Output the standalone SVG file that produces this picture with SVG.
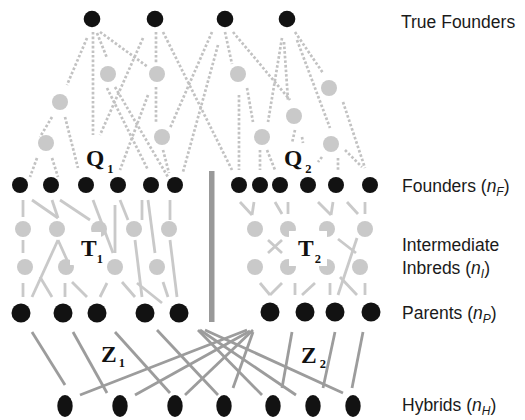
<svg xmlns="http://www.w3.org/2000/svg" width="525" height="420" viewBox="0 0 525 420">
<style>
.k{fill:#121212}
.g{fill:#c9c9c9}
.dot{stroke:#c2c2c2;stroke-width:2.7;stroke-dasharray:2.6 2;fill:none}
.mid{stroke:#c9c9c9;stroke-width:2.8;fill:none}
.bot{stroke:#9c9c9c;stroke-width:2.8;fill:none}
.lab{font-family:"Liberation Sans",Arial,sans-serif;font-size:17.5px;fill:#1a1a1a}
.big{font-family:"Liberation Serif","Times New Roman",serif;font-size:23.5px;font-weight:bold;fill:#111}
.sub{font-size:12.5px}
</style>
<rect width="525" height="420" fill="#fff"/>
<g id="connectors">
<g id="top-dotted" class="dot">
<line x1="87" y1="38" x2="67" y2="85"/>
<line x1="93" y1="32" x2="93" y2="135"/>
<line x1="97" y1="33" x2="107" y2="58"/>
<line x1="100" y1="32" x2="148" y2="67"/>
<line x1="143" y1="38" x2="100" y2="135"/>
<line x1="156" y1="32" x2="156" y2="64"/>
<line x1="163" y1="32" x2="232" y2="170"/>
<line x1="212" y1="32" x2="170" y2="128"/>
<line x1="218" y1="45" x2="183" y2="172"/>
<line x1="225" y1="32" x2="232" y2="64"/>
<line x1="233" y1="32" x2="290" y2="100"/>
<line x1="282" y1="38" x2="268" y2="122"/>
<line x1="284" y1="42" x2="288" y2="100"/>
<line x1="295" y1="32" x2="323" y2="73"/>
<line x1="297" y1="40" x2="330" y2="128"/>
<line x1="52" y1="117" x2="40" y2="137"/>
<line x1="65" y1="117" x2="78" y2="168"/>
<line x1="37" y1="158" x2="30" y2="177"/>
<line x1="52" y1="158" x2="58" y2="177"/>
<line x1="107" y1="88" x2="148" y2="170"/>
<line x1="115" y1="87" x2="168" y2="177"/>
<line x1="148" y1="95" x2="120" y2="170"/>
<line x1="156" y1="87" x2="156" y2="122"/>
<line x1="163" y1="150" x2="169" y2="173"/>
<line x1="239" y1="95" x2="239" y2="170"/>
<line x1="247" y1="88" x2="253" y2="122"/>
<line x1="260" y1="150" x2="260" y2="170"/>
<line x1="267" y1="150" x2="275" y2="170"/>
<line x1="295" y1="130" x2="292" y2="143"/>
<line x1="302" y1="137" x2="303" y2="143"/>
<line x1="343" y1="102" x2="365" y2="168"/>
<line x1="322" y1="157" x2="318" y2="162"/>
<line x1="338" y1="158" x2="338" y2="170"/>
<line x1="345" y1="150" x2="362" y2="167"/>
</g>
<g id="mid-solid" class="mid">
<line x1="23" y1="200" x2="23" y2="217"/>
<line x1="32" y1="200" x2="58" y2="218"/>
<line x1="52" y1="200" x2="58" y2="218"/>
<line x1="60" y1="200" x2="90" y2="220"/>
<line x1="93" y1="200" x2="113" y2="253"/>
<line x1="115" y1="205" x2="115" y2="253"/>
<line x1="120" y1="200" x2="128" y2="220"/>
<line x1="142" y1="200" x2="142" y2="220"/>
<line x1="148" y1="200" x2="155" y2="253"/>
<line x1="170" y1="200" x2="170" y2="220"/>
<line x1="135" y1="240" x2="142" y2="297"/>
<line x1="170" y1="240" x2="177" y2="297"/>
<line x1="23" y1="240" x2="23" y2="253"/>
<line x1="58" y1="240" x2="32" y2="297"/>
<line x1="58" y1="240" x2="67" y2="260"/>
<line x1="40" y1="277" x2="52" y2="297"/>
<line x1="23" y1="283" x2="23" y2="297"/>
<line x1="65" y1="283" x2="65" y2="297"/>
<line x1="72" y1="282" x2="87" y2="297"/>
<line x1="107" y1="283" x2="100" y2="297"/>
<line x1="122" y1="282" x2="135" y2="297"/>
<line x1="137" y1="283" x2="162" y2="303"/>
<line x1="163" y1="282" x2="168" y2="297"/>
<line x1="240" y1="202" x2="252" y2="215"/>
<line x1="254" y1="202" x2="252" y2="215"/>
<line x1="275" y1="202" x2="282" y2="214"/>
<line x1="288" y1="202" x2="288" y2="214"/>
<line x1="318" y1="202" x2="331" y2="215"/>
<line x1="333" y1="202" x2="331" y2="215"/>
<line x1="347" y1="202" x2="358" y2="214"/>
<line x1="365" y1="202" x2="365" y2="214"/>
<line x1="268" y1="240" x2="282" y2="253"/>
<line x1="282" y1="240" x2="268" y2="253"/>
<line x1="338" y1="239" x2="356" y2="253"/>
<line x1="357" y1="238" x2="338" y2="295"/>
<line x1="260" y1="283" x2="270" y2="295"/>
<line x1="282" y1="283" x2="270" y2="295"/>
<line x1="295" y1="283" x2="295" y2="295"/>
<line x1="302" y1="295" x2="315" y2="283"/>
<line x1="330" y1="283" x2="330" y2="295"/>
<line x1="340" y1="277" x2="357" y2="295"/>
<line x1="365" y1="283" x2="365" y2="295"/>
</g>
<g id="bottom-solid" class="bot">
<line x1="32" y1="332" x2="65" y2="385"/>
<line x1="73" y1="332" x2="107" y2="393"/>
<line x1="115" y1="332" x2="170" y2="393"/>
<line x1="157" y1="330" x2="218" y2="395"/>
<line x1="198" y1="330" x2="262" y2="395"/>
<line x1="200" y1="330" x2="296" y2="395"/>
<line x1="205" y1="330" x2="343" y2="393"/>
<line x1="80" y1="395" x2="247" y2="330"/>
<line x1="135" y1="395" x2="250" y2="331"/>
<line x1="185" y1="395" x2="253" y2="330"/>
<line x1="233" y1="388" x2="253" y2="332"/>
<line x1="292" y1="332" x2="282" y2="388"/>
<line x1="335" y1="332" x2="323" y2="388"/>
<line x1="363" y1="332" x2="352" y2="388"/>
</g>
</g>
<rect id="divider" x="209" y="171" width="5.5" height="151" fill="#999"/>
<g id="true-founders">
<g id="tf1"><circle class="k" cx="92" cy="19" r="8.3"/></g>
<g id="tf2"><circle class="k" cx="155" cy="19" r="8.3"/></g>
<g id="tf3"><circle class="k" cx="225" cy="19" r="8.3"/></g>
<g id="tf4"><circle class="k" cx="287" cy="19" r="8.3"/></g>
</g>
<g id="ancestors">
<g id="a1"><circle class="g" cx="108" cy="74" r="8"/></g>
<g id="a2"><circle class="g" cx="157" cy="74" r="8"/></g>
<g id="a3"><circle class="g" cx="60" cy="102" r="8"/></g>
<g id="a4"><circle class="g" cx="46" cy="143" r="8"/></g>
<g id="a5"><circle class="g" cx="162" cy="137" r="8"/></g>
<g id="a6"><circle class="g" cx="238" cy="74" r="8"/></g>
<g id="a7"><circle class="g" cx="329" cy="88" r="8"/></g>
<g id="a8"><circle class="g" cx="294" cy="116" r="8"/></g>
<g id="a9"><circle class="g" cx="262" cy="137" r="8"/></g>
<g id="a10"><circle class="g" cx="331" cy="144" r="8"/></g>
</g>
<g id="founders">
<g id="f1"><circle class="k" cx="20" cy="185" r="8"/></g>
<g id="f2"><circle class="k" cx="51" cy="185" r="8"/></g>
<g id="f3"><circle class="k" cx="86" cy="185" r="8"/></g>
<g id="f4"><circle class="k" cx="118" cy="185" r="8"/></g>
<g id="f5"><circle class="k" cx="151" cy="185" r="8"/></g>
<g id="f6"><circle class="k" cx="175" cy="185" r="8"/></g>
<g id="f7"><circle class="k" cx="239" cy="185" r="8"/></g>
<g id="f8"><circle class="k" cx="260" cy="185" r="8"/></g>
<g id="f9"><circle class="k" cx="280" cy="185" r="8"/></g>
<g id="f10"><circle class="k" cx="308" cy="185" r="8"/></g>
<g id="f11"><circle class="k" cx="336" cy="185" r="8"/></g>
<g id="f12"><circle class="k" cx="370" cy="185" r="8"/></g>
</g>
<g id="intermediates">
<g id="i1"><circle class="g" cx="23" cy="229" r="8"/></g>
<g id="i2"><circle class="g" cx="57" cy="229" r="8"/></g>
<g id="i3"><circle class="g" cx="99" cy="229" r="8"/></g>
<g id="i4"><circle class="g" cx="134" cy="229" r="8"/></g>
<g id="i5"><circle class="g" cx="169" cy="229" r="8"/></g>
<g id="i6"><circle class="g" cx="25" cy="267" r="8"/></g>
<g id="i7"><circle class="g" cx="66" cy="267" r="8"/></g>
<g id="i8"><circle class="g" cx="115" cy="267" r="8"/></g>
<g id="i9"><circle class="g" cx="157" cy="267" r="8"/></g>
<g id="i10"><circle class="g" cx="255" cy="229" r="8"/></g>
<g id="i11"><circle class="g" cx="288" cy="229" r="8"/></g>
<g id="i12"><circle class="g" cx="327" cy="229" r="8"/></g>
<g id="i13"><circle class="g" cx="365" cy="229" r="8"/></g>
<g id="i14"><circle class="g" cx="255" cy="267" r="8"/></g>
<g id="i15"><circle class="g" cx="288" cy="267" r="8"/></g>
<g id="i16"><circle class="g" cx="327" cy="267" r="8"/></g>
<g id="i17"><circle class="g" cx="360" cy="267" r="8"/></g>
</g>
<g id="parents">
<g id="p1"><circle class="k" cx="21" cy="313" r="9.5"/></g>
<g id="p2"><circle class="k" cx="63" cy="313" r="9.5"/></g>
<g id="p3"><circle class="k" cx="97" cy="313" r="9.5"/></g>
<g id="p4"><circle class="k" cx="145" cy="313" r="9.5"/></g>
<g id="p5"><circle class="k" cx="179" cy="313" r="9.5"/></g>
<g id="p6"><circle class="k" cx="270" cy="312" r="9.5"/></g>
<g id="p7"><circle class="k" cx="305" cy="312" r="9.5"/></g>
<g id="p8"><circle class="k" cx="335" cy="312" r="9.5"/></g>
<g id="p9"><circle class="k" cx="371" cy="312" r="9.5"/></g>
</g>
<g id="hybrids">
<g id="h1"><ellipse class="k" cx="65" cy="406" rx="7.7" ry="11"/></g>
<g id="h2"><ellipse class="k" cx="120" cy="406" rx="7.7" ry="11"/></g>
<g id="h3"><ellipse class="k" cx="175" cy="406" rx="7.7" ry="11"/></g>
<g id="h4"><ellipse class="k" cx="224" cy="406" rx="7.7" ry="11"/></g>
<g id="h5"><ellipse class="k" cx="273" cy="406" rx="7.7" ry="11"/></g>
<g id="h6"><ellipse class="k" cx="313" cy="406" rx="7.7" ry="11"/></g>
<g id="h7"><ellipse class="k" cx="353" cy="406" rx="7.7" ry="11"/></g>
</g>
<g id="group-labels">
<rect x="70" y="232" width="31" height="33" fill="#fff"/>
<rect x="289" y="231" width="38" height="35" fill="#fff"/>
<text class="big" x="86" y="166">Q<tspan class="sub" dx="3" dy="7">1</tspan></text>
<text class="big" x="284" y="166">Q<tspan class="sub" dx="3" dy="7">2</tspan></text>
<text class="big" x="81" y="256">T<tspan class="sub" dx="0" dy="7">1</tspan></text>
<text class="big" x="298" y="256">T<tspan class="sub" dx="1" dy="7">2</tspan></text>
<text class="big" x="101" y="362">Z<tspan class="sub" dx="2" dy="5">1</tspan></text>
<text class="big" x="301" y="363">Z<tspan class="sub" dx="3" dy="5">2</tspan></text>
</g>
<g id="row-labels" class="lab">
<text x="401" y="28">True Founders</text>
<text x="402" y="192">Founders (<tspan font-style="italic">n</tspan><tspan font-style="italic" font-size="12" dy="4">F</tspan><tspan dy="-4">)</tspan></text>
<text x="402" y="251">Intermediate</text>
<text x="402" y="274">Inbreds (<tspan font-style="italic">n</tspan><tspan font-style="italic" font-size="12" dy="4">I</tspan><tspan dy="-4">)</tspan></text>
<text x="402" y="319">Parents (<tspan font-style="italic">n</tspan><tspan font-style="italic" font-size="12" dy="4">P</tspan><tspan dy="-4">)</tspan></text>
<text x="402" y="411">Hybrids (<tspan font-style="italic">n</tspan><tspan font-style="italic" font-size="12" dy="4">H</tspan><tspan dy="-4">)</tspan></text>
</g>
</svg>
